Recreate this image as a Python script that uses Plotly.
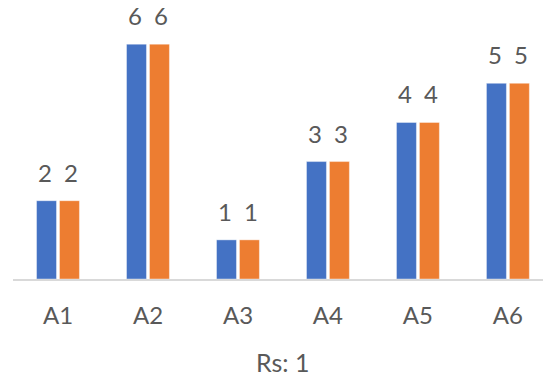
import plotly.graph_objects as go

categories = ["A1", "A2", "A3", "A4", "A5", "A6"]
series1 = [2, 6, 1, 3, 4, 5]
series2 = [2, 6, 1, 3, 4, 5]
x_title = "Rs: 1"

blue = "#4472C4"
orange = "#ED7D31"
text_col = "#595959"
font_family = "Lato, Open Sans, sans-serif"
fsize = 24

fig = go.Figure()
for vals, col in [(series1, blue), (series2, orange)]:
    fig.add_trace(go.Bar(
        x=categories, y=vals,
        marker=dict(color=col, line=dict(color="rgba(255,255,255,0.5)", width=0.8)),
    ))

# data labels above each bar (offset within group)
offset = 0.144
annotations = []
for vals, dx in [(series1, -offset), (series2, offset)]:
    for i, v in enumerate(vals):
        annotations.append(dict(
            x=i + dx, y=v, xref="x", yref="y", text=str(v), showarrow=False,
            yanchor="bottom", yshift=12,
            font=dict(size=fsize, color=text_col, family=font_family),
        ))
annotations.append(dict(
    x=(len(categories) - 1) / 2, y=0, xref="x", yref="paper", text=x_title,
    showarrow=False, yanchor="top", yshift=-66,
    font=dict(size=25, color=text_col, family=font_family),
))

fig.update_layout(
    width=543, height=385,
    margin=dict(l=13, r=0, t=5, b=106),
    paper_bgcolor="white", plot_bgcolor="white",
    barmode="group", bargap=0.49, bargroupgap=0.13,
    showlegend=False,
    font=dict(family=font_family, color=text_col, size=fsize),
    xaxis=dict(
        type="category", range=[-0.5, 5.39],
        showline=True, linecolor="#D9D9D9", linewidth=1.5,
        showgrid=False, ticks="", ticklabelstandoff=14,
        tickfont=dict(size=fsize, color=text_col, family=font_family),
    ),
    yaxis=dict(range=[0, 7], visible=False),
    annotations=annotations,
)

fig.write_html("out.html")
